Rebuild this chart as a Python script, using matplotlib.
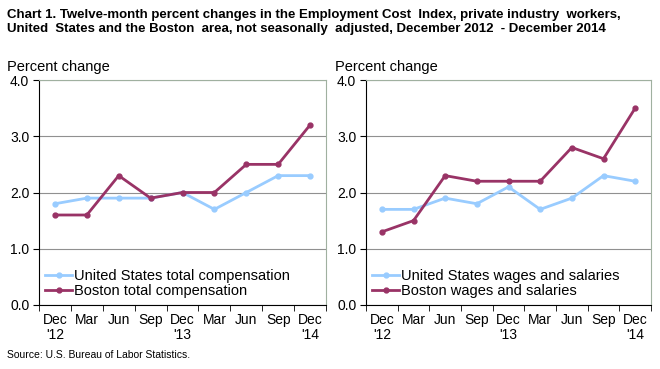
import matplotlib.pyplot as plt
import numpy as np

plt.rcParams['font.family'] = ['Liberation Sans', 'DejaVu Sans']

meses = ["Dec\n'12", "Mar", "Jun", "Sep", "Dec\n'13", "Mar", "Jun", "Sep", "Dec\n'14"]

us_comp = [1.8, 1.9, 1.9, 1.9, 2.0, 1.7, 2.0, 2.3, 2.3]
boston_comp = [1.6, 1.6, 2.3, 1.9, 2.0, 2.0, 2.5, 2.5, 3.2]

us_wages = [1.7, 1.7, 1.9, 1.8, 2.1, 1.7, 1.9, 2.3, 2.2]
boston_wages = [1.3, 1.5, 2.3, 2.2, 2.2, 2.2, 2.8, 2.6, 3.5]

azul = '#99CCFF'
granate = '#993366'


def panel(ax, us, boston, lab_us, lab_boston):
    x = np.arange(len(meses))
    ax.plot(x, us, color=azul, lw=2, marker='o', ms=3.5, label=lab_us)
    ax.plot(x, boston, color=granate, lw=2, marker='o', ms=3.5, label=lab_boston)
    ax.set_xlim(-0.5, len(meses) - 0.5)
    ax.set_ylim(0, 4)
    ax.set_yticks([0, 1, 2, 3, 4])
    ax.set_yticklabels([f"{v:.1f}" for v in [0, 1, 2, 3, 4]], fontsize=10)
    ax.set_xticks(x)
    ax.set_xticklabels(meses, fontsize=10, linespacing=1.1)
    ax.set_xticks(np.arange(-0.5, len(meses)), minor=True)
    ax.tick_params(axis='x', which='major', length=0, pad=6)
    ax.tick_params(axis='x', which='minor', length=4, color='black')
    ax.tick_params(axis='y', length=4, color='black', pad=3)
    ax.grid(axis='y', color='#909090', lw=0.8)
    ax.set_axisbelow(True)
    for s in ['top', 'right']:
        ax.spines[s].set_color('#a0b0a0')
    ax.spines['left'].set_color('black')
    ax.spines['bottom'].set_color('black')
    ax.text(-0.11, 1.025, 'Percent change', transform=ax.transAxes, fontsize=10.5,
            ha='left', va='bottom')
    ax.legend(loc='lower left', frameon=False, fontsize=10.5, handlelength=1.9,
              handletextpad=0.1, borderaxespad=0.0, borderpad=0.1, labelspacing=0.05,
              bbox_to_anchor=(0.015, 0.025))


fig = plt.figure(figsize=(6.6, 3.69), dpi=100)
ax1 = fig.add_axes([39 / 660, 1 - 305 / 369, 287 / 660, 225 / 369])
ax2 = fig.add_axes([366 / 660, 1 - 305 / 369, 285 / 660, 225 / 369])

panel(ax1, us_comp, boston_comp, 'United States total compensation', 'Boston total compensation')
panel(ax2, us_wages, boston_wages, 'United States wages and salaries', 'Boston wages and salaries')

fig.text(7 / 660, 1 - 9 / 369,
         'Chart 1. Twelve-month percent changes in the Employment Cost  Index, private industry  workers,\n'
         'United  States and the Boston  area, not seasonally  adjusted, December 2012  - December 2014',
         fontsize=9.5, fontweight='bold', ha='left', va='top', linespacing=1.2)
fig.text(7 / 660, 1 - 360 / 369, 'Source: U.S. Bureau of Labor Statistics.', fontsize=7.5,
         ha='left', va='bottom')

fig.savefig('out.png', dpi=100)
